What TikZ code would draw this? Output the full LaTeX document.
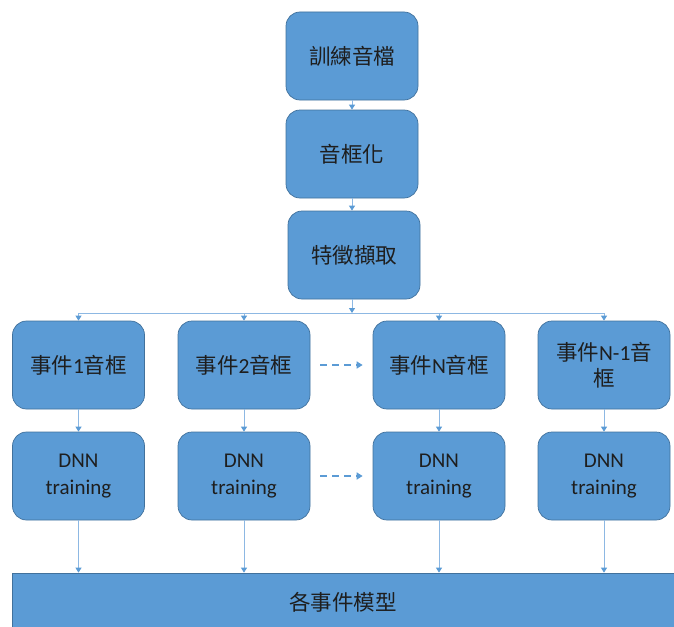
\documentclass[tikz,border=0pt]{standalone}
\usepackage{fontspec}
\setmainfont{Carlito}
\newfontfamily\cjk{Noto Sans CJK TC}
\usetikzlibrary{arrows.meta}
\definecolor{boxfill}{HTML}{5B9BD5}
\definecolor{boxline}{HTML}{41719C}
\definecolor{conn}{HTML}{8DB8E3}
\definecolor{head}{HTML}{5B9BD5}
\definecolor{txt}{HTML}{1E1E1E}
\tikzset{
  box/.style={draw=boxline, fill=boxfill, rounded corners=14pt, line width=0.7pt,
    minimum width=132pt, minimum height=88pt, inner sep=2pt, align=center,
    text=txt, font=\fontsize{21.5}{26}\selectfont},
  conn/.style={draw=conn, line width=0.9pt, -{Triangle[width=6pt,length=5pt,color=head]}},
  plain/.style={draw=conn, line width=0.9pt},
  dasharrow/.style={draw=head, line width=2pt, dash pattern=on 7pt off 5pt,
    -{Triangle[width=7pt,length=6pt]}}
}
\begin{document}
\begin{tikzpicture}[x=1pt,y=-1pt]
\useasboundingbox (0,0) rectangle (674,626);
% top chain
\node[box] (t1) at (352,56) {\cjk 訓練音檔};
\node[box] (t2) at (352,154) {\cjk 音框化};
\node[box] (t3) at (354,255) {\cjk 特徵擷取};
\draw[conn] (t1.south) -- (t1.south |- t2.north);
\draw[conn] (t2.south) -- (t2.south |- t3.north);
\coordinate (split) at (352,313);
\draw[conn] (split |- t3.south) -- (split);
% row 1
\node[box] (a1) at (78.5,365) {{\cjk 事件}1{\cjk 音框}};
\node[box] (b1) at (244,365) {{\cjk 事件}2{\cjk 音框}};
\node[box] (c1) at (439,365) {{\cjk 事件}N{\cjk 音框}};
\node[box] (d1) at (604,365) {{\cjk 事件}N-1{\cjk 音}\\{\cjk 框}};
% row 2
\node[box, font=\fontsize{21}{27}\selectfont] (a2) at (78.5,476) {DNN\\training};
\node[box, font=\fontsize{21}{27}\selectfont] (b2) at (244,476) {DNN\\training};
\node[box, font=\fontsize{21}{27}\selectfont] (c2) at (439,476) {DNN\\training};
\node[box, font=\fontsize{21}{27}\selectfont] (d2) at (604,476) {DNN\\training};
% bottom bar
\node[draw=boxline, fill=boxfill, line width=0.7pt, minimum width=662pt, minimum height=58pt,
  text=txt, font=\fontsize{21.5}{26}\selectfont] (bar) at (343,602) {\cjk 各事件模型};
% branch
\draw[plain] (a1.north |- split) -- (d1.north |- split);
\foreach \n in {a1,b1,c1,d1} \draw[conn] (\n.north |- split) -- (\n.north);
% vertical links
\foreach \n in {a,b,c,d} {
  \draw[conn] (\n1.south) -- (\n2.north);
  \draw[conn] (\n2.south) -- (\n2.south |- bar.north);
}
% dashed arrows
\draw[dasharrow] ([xshift=10pt]b1.east) -- ([xshift=-10pt]c1.west);
\draw[dasharrow] ([xshift=10pt]b2.east) -- ([xshift=-10pt]c2.west);
\end{tikzpicture}
\end{document}
